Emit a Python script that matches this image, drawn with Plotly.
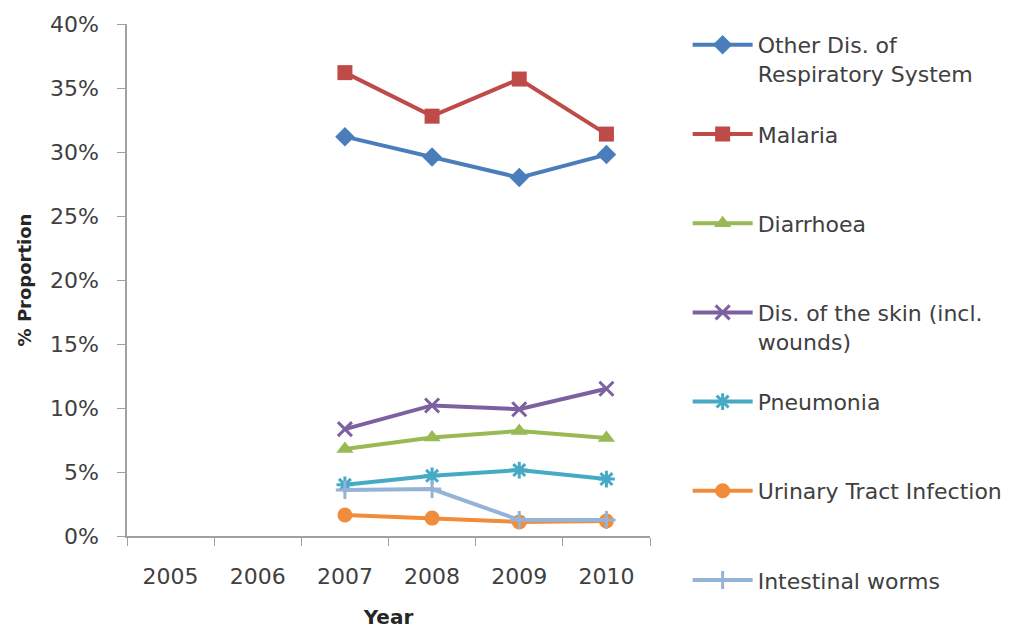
import plotly.graph_objects as go

years = ["2005", "2006", "2007", "2008", "2009", "2010"]
other_resp = [None, None, 0.312, 0.296, 0.280, 0.298]
malaria = [None, None, 0.362, 0.328, 0.357, 0.314]
diarrhoea = [None, None, 0.068, 0.077, 0.082, 0.0765]
skin = [None, None, 0.0835, 0.102, 0.099, 0.115]
pneumonia = [None, None, 0.040, 0.047, 0.0515, 0.0445]
uti = [None, None, 0.0164, 0.014, 0.011, 0.0117]
worms = [None, None, 0.036, 0.0367, 0.0125, 0.0125]

series = [
    ("Other Dis. of<br>Respiratory System", other_resp, "#4a7ebb", "diamond", 15),
    ("Malaria<br>&nbsp;", malaria, "#be4b48", "square", 15),
    ("Diarrhoea<br>&nbsp;", diarrhoea, "#98b954", "triangle-up", 15),
    ("Dis. of the skin (incl.<br>wounds)", skin, "#7d60a0", "x-thin", 14),
    ("Pneumonia<br>&nbsp;", pneumonia, "#46aac5", "asterisk", 14),
    ("Urinary Tract Infection<br>&nbsp;", uti, "#f08c3a", "circle", 15),
    ("Intestinal worms", worms, "#95b3d7", "cross-thin", 13),
]

font = "DejaVu Sans"
fig = go.Figure()
for i, (name, vals, color, sym, size) in enumerate(series):
    thin = sym.endswith("-thin") or sym == "asterisk"
    fig.add_trace(go.Scatter(
        x=years, y=vals, name=name, mode="lines+markers",
        line=dict(color=color, width=4),
        marker=dict(symbol=sym, size=size, color=color,
                    line=dict(color=color, width=3 if thin else 0)),
        legendgroup=f"g{i}",
        connectgaps=False,
    ))

# page body has an 8px margin; figure is sized/offset to compensate
fig.update_layout(
    width=1023, height=624,
    margin=dict(l=119, r=381, t=16, b=96),
    paper_bgcolor="white", plot_bgcolor="white",
    font=dict(family=font, size=21, color="#404040"),
    showlegend=True,
    legend=dict(
        x=1.072, xanchor="left", y=1.0, yanchor="top",
        valign="top", tracegroupgap=29, itemwidth=60, maxheight=640,
        font=dict(family=font, size=22, color="#404040"),
        bgcolor="rgba(0,0,0,0)",
    ),
    xaxis=dict(
        type="category", categoryorder="array", categoryarray=years,
        range=[-0.5, 5.5], automargin=False,
        showline=True, linecolor="#a0a0a0", linewidth=1.5,
        ticks="outside", tickson="boundaries", ticklen=8, tickcolor="#a0a0a0",
        ticklabelstandoff=20, tickfont=dict(size=22),
        showgrid=False, zeroline=False,
        title=dict(text="<b>Year</b>", font=dict(family=font, size=20, color="#262626"), standoff=22),
    ),
    yaxis=dict(
        range=[0, 0.40], dtick=0.05, tickformat=".0%", automargin=False,
        showline=True, linecolor="#a0a0a0", linewidth=1.5,
        ticks="outside", ticklen=8, tickcolor="#a0a0a0",
        ticklabelstandoff=14, tickfont=dict(size=22),
        showgrid=False, zeroline=False,
        title=dict(text="<b>% Proportion</b>", font=dict(family=font, size=18, color="#262626"), standoff=14),
    ),
)

fig.write_html("out.html")
